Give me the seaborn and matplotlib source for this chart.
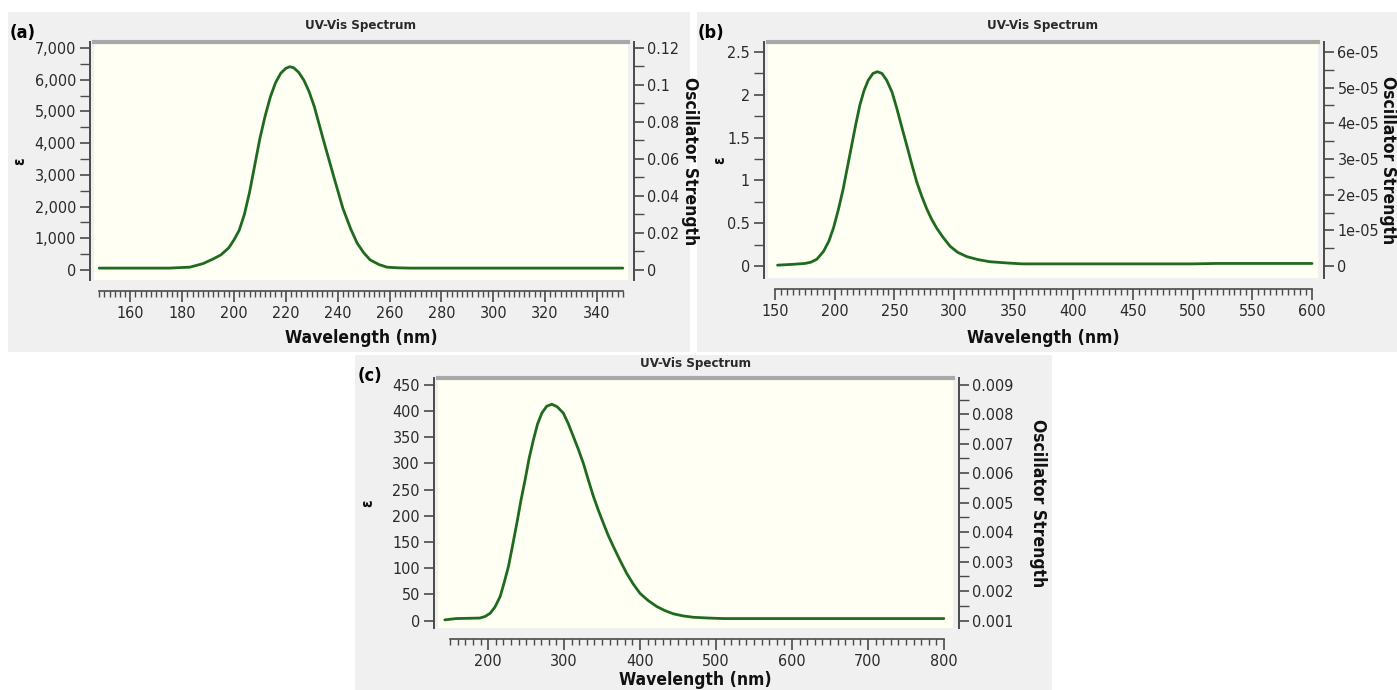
import matplotlib
matplotlib.use("Agg")
import matplotlib.pyplot as plt
import seaborn as sns
import pandas as pd
from matplotlib.patches import Rectangle
from matplotlib.ticker import MultipleLocator, FixedLocator

# ---------------- data ----------------
a_wl = [148, 160, 175, 183, 188, 192, 195, 198, 200, 202, 204, 206, 208, 210, 212, 214, 216,
        218, 220, 221.5, 223, 225, 227, 229, 231, 234.5, 238.5, 242, 245, 247.5, 250, 252.5,
        256, 259, 263, 268, 280, 350]
a_eps = [60, 60, 60, 90, 200, 350, 480, 700, 950, 1250, 1750, 2450, 3300, 4150, 4850, 5450, 5900,
         6200, 6360, 6410, 6380, 6230, 5980, 5620, 5150, 4100, 2940, 1950, 1300, 850, 550, 320,
         170, 90, 70, 60, 60, 60]

b_wl = [152, 165, 175, 180, 185, 190.5, 195, 199, 203, 207, 210.5, 214, 217.5, 221, 224.5,
        228, 232, 235.7, 239.5, 243.5, 248, 252, 256, 260.5, 264.5, 268.7, 273, 277, 281,
        285.5, 291, 296.7, 303, 310.6, 320, 330, 345, 357, 400, 500, 520, 600]
b_eps = [0.01, 0.02, 0.03, 0.045, 0.08, 0.17, 0.29, 0.45, 0.66, 0.90, 1.15, 1.40, 1.65, 1.88, 2.05,
         2.17, 2.25, 2.27, 2.25, 2.17, 2.03, 1.84, 1.63, 1.40, 1.19, 0.98, 0.81, 0.67, 0.55,
         0.44, 0.33, 0.23, 0.16, 0.11, 0.075, 0.05, 0.035, 0.025, 0.025, 0.025, 0.03, 0.03]

c_wl = [143, 158, 189, 196, 202.6, 209, 215.8, 221, 226.7, 232, 237.8, 243, 248.7, 254, 259.6,
        265, 270.7, 277, 283.8, 291, 299, 305.5, 312.3, 319, 325.4, 332, 338.6, 345, 351.7,
        358, 365, 374, 382.5, 391, 400, 411, 422, 433, 444, 457, 470, 490, 510, 600, 800]
c_eps = [1.5, 4, 5, 8, 14, 26, 46, 72, 103, 142, 186, 228, 269, 310, 345,
         375, 396, 409, 413, 408, 396, 376, 351, 326, 300, 268, 237, 211, 186,
         163, 141, 114, 90, 70, 52, 38, 27, 19, 13, 9, 6.5, 5, 4, 4, 4]

a_xticks = [160, 180, 200, 220, 240, 260, 280, 300, 320, 340]
b_xticks = [150, 200, 250, 300, 350, 400, 450, 500, 550, 600]
c_xticks = [200, 300, 400, 500, 600, 700, 800]

a_yticks = [0, 1000, 2000, 3000, 4000, 5000, 6000, 7000]
b_yticks = [0, 0.5, 1, 1.5, 2, 2.5]
c_yticks = [0, 50, 100, 150, 200, 250, 300, 350, 400, 450]

a_rticks = [0, 0.02, 0.04, 0.06, 0.08, 0.1, 0.12]
b_rticks = [0, 1e-05, 2e-05, 3e-05, 4e-05, 5e-05, 6e-05]
c_rticks = [0.001, 0.002, 0.003, 0.004, 0.005, 0.006, 0.007, 0.008, 0.009]

a_rlabels = ["0", "0.02", "0.04", "0.06", "0.08", "0.1", "0.12"]
b_rlabels = ["0", "1e-05", "2e-05", "3e-05", "4e-05", "5e-05", "6e-05"]
c_rlabels = ["0.001", "0.002", "0.003", "0.004", "0.005", "0.006", "0.007", "0.008", "0.009"]

a_ylabels = ["0", "1,000", "2,000", "3,000", "4,000", "5,000", "6,000", "7,000"]
b_ylabels = ["0", "0.5", "1", "1.5", "2", "2.5"]
c_ylabels = [str(v) for v in c_yticks]

# ---------------- style ----------------
sns.set_theme(style="white")
plt.rcParams["font.family"] = ["DejaVu Sans"]
plt.rcParams["font.stretch"] = "condensed"

W, H = 1397, 690
fig = plt.figure(figsize=(W / 100, H / 100), dpi=100)
fig.patch.set_facecolor("white")

GREY_BG = "#F0F0F0"
CREAM = "#FFFFF4"
GREEN = "#1F6A1F"
AXC = "#4A4A4A"
TXT = "#2A2A2A"


def rect(l, t, r, b):
    return [l / W, 1 - b / H, (r - l) / W, (b - t) / H]


panels = [
    dict(tag="(a)", wl=a_wl, eps=a_eps, grey=(8, 12, 690, 352), box=(94, 42, 628, 280),
         xlim=(146, 352), ylim=(-315, 7190), rylim=(-0.0054, 0.1232), ruler=(148, 350),
         xticks=a_xticks, xminor=2, yticks=a_yticks, ylabels=a_ylabels, yminor=500,
         rticks=a_rticks, rlabels=a_rlabels, rminor=0.01,
         tagpos=(10, 33), title_y=25, xlabel_y=338, ylabel_x=20, rlabel_x=690),
    dict(tag="(b)", wl=b_wl, eps=b_eps, grey=(697, 12, 1397, 352), box=(768, 42, 1318, 278),
         xlim=(144, 605), ylim=(-0.14, 2.617), rylim=(-3.36e-06, 6.28e-05), ruler=(150, 600),
         xticks=b_xticks, xminor=5, yticks=b_yticks, ylabels=b_ylabels, yminor=0.25,
         rticks=b_rticks, rlabels=b_rlabels, rminor=5e-06,
         tagpos=(698, 33), title_y=25, xlabel_y=338, ylabel_x=720, rlabel_x=1388),
    dict(tag="(c)", wl=c_wl, eps=c_eps, grey=(355, 355, 1052, 690), box=(438, 378, 953, 628),
         xlim=(134, 812), ylim=(-14, 463), rylim=(0.000751, 0.00923), ruler=(150, 800),
         xticks=c_xticks, xminor=10, yticks=c_yticks, ylabels=c_ylabels, yminor=None,
         rticks=c_rticks, rlabels=c_rlabels, rminor=0.0005,
         tagpos=(358, 376), title_y=363, xlabel_y=680, ylabel_x=368, rlabel_x=1038),
]

for p in panels:
    gl, gt, gr, gb = p["grey"]
    fig.patches.append(Rectangle((gl / W, 1 - gb / H), (gr - gl) / W, (gb - gt) / H,
                                 transform=fig.transFigure, facecolor=GREY_BG,
                                 edgecolor="none", zorder=-10))

    ax = fig.add_axes(rect(*p["box"]))
    ax.set_zorder(2)
    ax.set_facecolor(CREAM)
    df = pd.DataFrame({"wl": p["wl"], "eps": p["eps"]})
    sns.lineplot(data=df, x="wl", y="eps", ax=ax, color=GREEN, linewidth=2.0)
    ax.set_xlim(*p["xlim"])
    ax.set_ylim(*p["ylim"])
    ax.set_xlabel("")
    ax.set_ylabel("")

    # spines
    ax.spines["top"].set_visible(True)
    ax.spines["top"].set_color("#A8A8A8")
    ax.spines["top"].set_linewidth(3)
    ax.spines["right"].set_visible(False)
    ax.spines["left"].set_color(AXC)
    ax.spines["left"].set_linewidth(1.4)
    ax.spines["left"].set_position(("outward", 3))
    ax.spines["bottom"].set_color(AXC)
    ax.spines["bottom"].set_linewidth(1.2)
    ax.spines["bottom"].set_position(("outward", 8))
    ax.spines["bottom"].set_bounds(*p["ruler"])

    # ticks
    lo, hi = p["ruler"]
    ax.xaxis.set_major_locator(FixedLocator(p["xticks"]))
    ax.xaxis.set_minor_locator(FixedLocator(
        [v for v in range(int(lo), int(hi) + 1, p["xminor"]) if v not in p["xticks"]]))
    ax.yaxis.set_major_locator(FixedLocator(p["yticks"]))
    ax.set_yticklabels(p["ylabels"])
    if p["yminor"]:
        ax.yaxis.set_minor_locator(MultipleLocator(p["yminor"]))
    ax.tick_params(axis="x", which="major", direction="out", length=8, width=1.2,
                   color=AXC, labelsize=11.5, labelcolor=TXT, pad=3, bottom=True)
    ax.tick_params(axis="x", which="minor", direction="out", length=4, width=1.0,
                   color=AXC, bottom=True)
    ax.tick_params(axis="y", which="major", direction="out", length=7, width=1.2,
                   color=AXC, labelsize=11.5, labelcolor=TXT, pad=3, left=True)
    ax.tick_params(axis="y", which="minor", direction="out", length=7, width=1.0,
                   color=AXC, left=True)
    ax.grid(False)

    # right axis
    ax2 = ax.twinx()
    ax2.set_zorder(3)
    ax2.set_ylim(*p["rylim"])
    ax2.patch.set_visible(False)
    for s in ["top", "left", "bottom"]:
        ax2.spines[s].set_visible(False)
    ax2.spines["right"].set_visible(True)
    ax2.spines["right"].set_color(AXC)
    ax2.spines["right"].set_linewidth(1.4)
    ax2.spines["right"].set_position(("outward", 4))
    ax2.yaxis.set_major_locator(FixedLocator(p["rticks"]))
    ax2.set_yticklabels(p["rlabels"])
    ax2.yaxis.set_minor_locator(MultipleLocator(p["rminor"]))
    ax2.tick_params(axis="y", which="major", direction="out", length=7, width=1.2,
                    color=AXC, labelsize=11.5, labelcolor=TXT, pad=3, right=True)
    ax2.tick_params(axis="y", which="minor", direction="out", length=7, width=1.0,
                    color=AXC, right=True)
    ax2.grid(False)

    # texts
    bl, bt, br, bb = p["box"]
    cx = (bl + br) / 2
    fig.text(cx / W, 1 - p["title_y"] / H, "UV-Vis Spectrum", ha="center", va="center",
             fontsize=9.5, fontweight="bold", color=TXT)
    fig.text(cx / W, 1 - p["xlabel_y"] / H, "Wavelength (nm)", ha="center", va="center",
             fontsize=12.5, fontweight="bold", color="#111111")
    fig.text(p["ylabel_x"] / W, 1 - ((bt + bb) / 2) / H, "ε", ha="center", va="center",
             rotation=90, fontsize=11, fontweight="bold", color="#111111")
    fig.text(p["rlabel_x"] / W, 1 - ((bt + bb) / 2) / H, "Oscillator Strength",
             ha="center", va="center", rotation=270, fontsize=12.5, fontweight="bold",
             color="#111111")
    fig.text(p["tagpos"][0] / W, 1 - p["tagpos"][1] / H, p["tag"], ha="left", va="center",
             fontsize=13, fontweight="bold", color="black")

fig.savefig("out.png", dpi=100, facecolor="white")
